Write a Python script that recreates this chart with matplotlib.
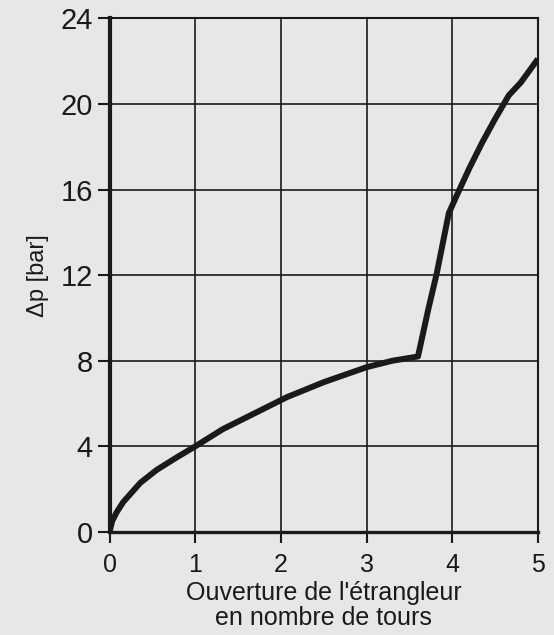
import matplotlib
matplotlib.use("Agg")
import matplotlib.pyplot as plt

# values
turns = [0, 0.03, 0.08, 0.16, 0.36, 0.55, 0.79, 1.0, 1.32, 1.72, 2.07, 2.5,
         3.0, 3.3, 3.6, 3.72, 3.82, 3.96, 4.05, 4.2, 4.35, 4.5, 4.66, 4.8, 5.0]
delta_p = [0, 0.5, 0.9, 1.4, 2.3, 2.9, 3.5, 4.0, 4.8, 5.6, 6.3, 7.0,
           7.7, 8.0, 8.2, 10.4, 12.1, 14.9, 15.7, 17.0, 18.2, 19.3, 20.4, 21.0, 22.1]
x_ticks = [0, 1, 2, 3, 4, 5]
y_ticks = [0, 4, 8, 12, 16, 20, 24]

bg = "#e6e7e9"
ink = "#1a1a1a"
plt.rcParams['font.family'] = ['Liberation Sans', 'DejaVu Sans']

fig = plt.figure(figsize=(5.54, 6.35), dpi=100, facecolor=bg)
ax = fig.add_axes([0.1977, 0.1622, 0.7733, 0.809])
ax.set_facecolor(bg)

ax.plot(turns, delta_p, color=ink, linewidth=4.3, solid_capstyle='butt',
        solid_joinstyle='round', zorder=3)

ax.set_xlim(0, 5)
ax.set_ylim(0, 24)
ax.set_xticks(x_ticks)
ax.set_yticks(y_ticks)
ax.grid(True, color=ink, linewidth=1.2)
ax.set_axisbelow(True)

for side, lw in [('left', 3.0), ('bottom', 2.4), ('top', 1.5), ('right', 1.5)]:
    ax.spines[side].set_color(ink)
    ax.spines[side].set_linewidth(lw)

ax.tick_params(axis='x', direction='out', length=8, width=1.5, pad=7,
               labelsize=18, colors=ink)
ax.tick_params(axis='y', direction='out', length=9, width=1.5, pad=3,
               labelsize=21, colors=ink)

ax.set_xlabel("Ouverture de l'étrangleur\nen nombre de tours",
              fontsize=18, color=ink, labelpad=3, linespacing=1.05)
ax.set_ylabel("Δp [bar]", fontsize=17, color=ink, labelpad=8)

fig.savefig("out.png", dpi=100, facecolor=bg)
